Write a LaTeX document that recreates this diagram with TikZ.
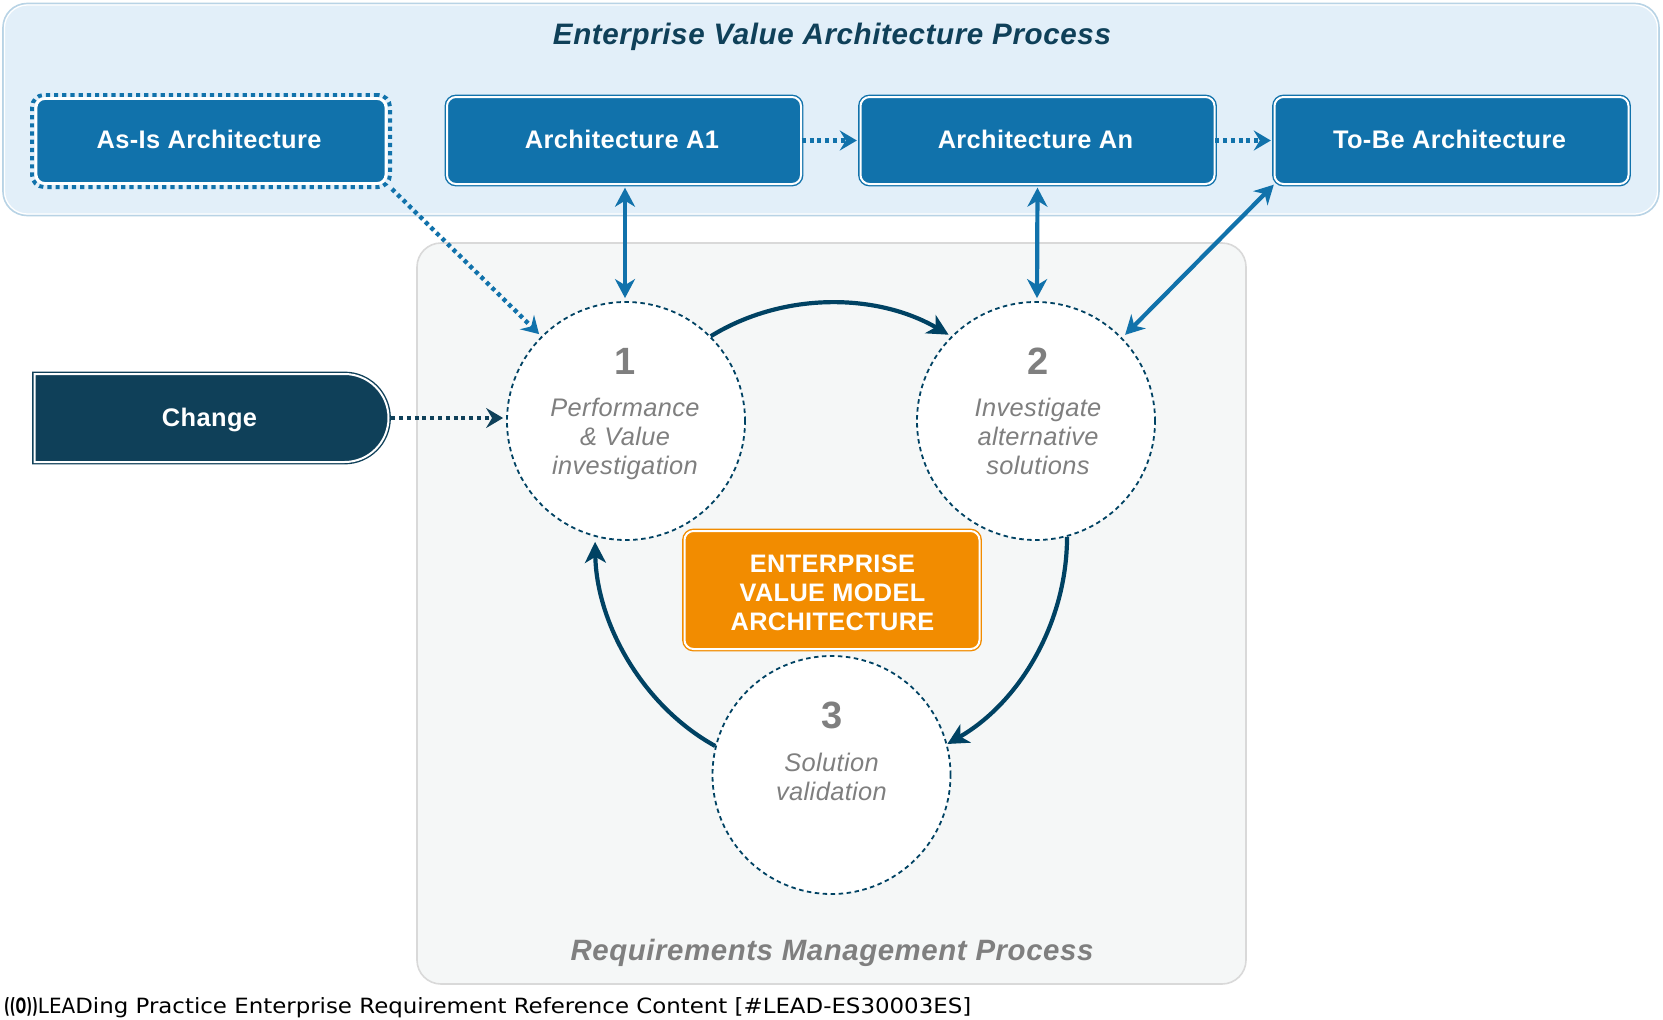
\documentclass[tikz,border=0pt]{standalone}
\usepackage{fontspec}
\setmainfont{Liberation Sans}
\newfontfamily\footfont{DejaVu Sans}
\usetikzlibrary{arrows.meta,calc,shapes.misc}
\definecolor{bluebox}{HTML}{1172AB}
\definecolor{navy}{HTML}{0F4059}
\definecolor{arcnavy}{HTML}{004263}
\definecolor{orangebox}{HTML}{F28C00}
\definecolor{toppanel}{HTML}{E2EFF9}
\definecolor{topedge}{HTML}{B8D3E5}
\definecolor{reqpanel}{HTML}{F5F7F7}
\definecolor{reqedge}{HTML}{D9D9D9}
\definecolor{greytext}{HTML}{7F7F7F}
\newcommand{\sz}[2]{\fontsize{#1}{#2}\selectfont}
\newcommand{\boxlabel}[1]{\hspace*{-4pt}\raisebox{2pt}{#1}}
\tikzset{
  x=1pt,y=-1pt,
  panel/.style={rounded corners=24pt,line width=1.6pt,anchor=north west,inner sep=0pt,outer sep=0pt},
  archbox/.style={rectangle,rounded corners=9pt,draw=bluebox,line width=1.4pt,double=white,double distance=2pt,fill=bluebox,
    minimum width=354pt,minimum height=87pt,inner sep=0pt,text=white,font=\sz{25.4}{29}\bfseries\addfontfeature{LetterSpace=1.5}},
  stage/.style={circle,draw=arcnavy,fill=white,line width=1.8pt,dash pattern=on 4.5pt off 3.5pt,minimum size=238pt,inner sep=0pt},
  numtext/.style={text=greytext,font=\sz{38}{38}\bfseries,inner sep=0pt},
  stagetext/.style={text=greytext,font=\sz{25.4}{29}\itshape\addfontfeature{LetterSpace=1.5},align=center,inner sep=0pt},
  bluelink/.style={draw=bluebox,line width=4.2pt,{Stealth[length=19pt,width=20pt,inset=6pt]}-{Stealth[length=19pt,width=20pt,inset=6pt]}},
  dotlink/.style={draw=bluebox,line width=4.4pt,dash pattern=on 4pt off 3.8pt,-{Stealth[length=17pt,width=20pt,inset=6pt]}},
  navydot/.style={draw=navy,line width=4.4pt,dash pattern=on 4pt off 3.8pt,-{Stealth[length=17pt,width=20pt,inset=6pt]}},
  cyclelink/.style={draw=arcnavy,line width=4.2pt,-{Stealth[length=21pt,width=21pt,inset=6pt]}},
}
\begin{document}
\begin{tikzpicture}
\useasboundingbox (0,0) rectangle (1663,1020);
\fill[white] (0,0) rectangle (1663,1020);
% panels
\node[panel,draw=topedge,fill=toppanel,minimum width=1656pt,minimum height=212pt] (toppanelbox) at (3,3.5) {};
\draw[white,line width=1.2pt,rounded corners=23pt] (4.5,5) rectangle (1657.5,214);
\node[panel,draw=reqedge,fill=reqpanel,minimum width=829pt,minimum height=741pt] (reqpanelbox) at (417,243) {};
\node[text=navy,font=\sz{29.6}{34}\bfseries\itshape\addfontfeature{LetterSpace=2},inner sep=0pt] (toptitle) at (832,37) {Enterprise Value Architecture Process};
\node[text=greytext,font=\sz{29.4}{34}\bfseries\itshape\addfontfeature{LetterSpace=2},inner sep=0pt] (reqtitle) at (832,953) {Requirements Management Process};
% top boxes
\node[rectangle,rounded corners=12pt,draw=bluebox,line width=4pt,dash pattern=on 4.2pt off 4pt,minimum width=358pt,minimum height=92pt,inner sep=0pt] (asisring) at (211,141) {};
\node[archbox,draw=white,double=white,double distance=0pt,line width=1.4pt,minimum width=350pt,minimum height=85pt] (asis) at (211,141) {\hspace*{-4pt}\raisebox{4pt}{As-Is Architecture}};
\node[archbox] (a1) at (624,140.5) {\boxlabel{Architecture A1}};
\node[archbox] (an) at (1037.5,140.5) {\boxlabel{Architecture An}};
\node[archbox] (tobe) at (1451.5,140.5) {\boxlabel{To-Be Architecture}};
% change
\node[rectangle,rounded rectangle,rounded rectangle left arc=none,draw=navy,line width=1.4pt,double=white,double distance=2pt,fill=navy,minimum width=354pt,minimum height=88pt,inner sep=0pt] (change) at (211.5,418) {};
\node[text=white,inner sep=0pt,font=\sz{25.4}{29}\bfseries\addfontfeature{LetterSpace=1.5}] (changetext) at (209.5,420) {Change};
% circles
\node[stage] (c1) at (626,421) {};
\node[stage] (c2) at (1036,421) {};
\node[stage] (c3) at (831.5,775) {};
\node[numtext] (n1) at (625,361) {1};
\node[stagetext] (t1) at (625,439) {Performance\\\& Value\\investigation};
\node[numtext] (n2) at (1038,361) {2};
\node[stagetext] (t2) at (1038,436.5) {Investigate\\alternative\\solutions};
\node[numtext] (n3) at (832,715) {3};
\node[stagetext] (t3) at (831.5,777) {Solution\\validation};
% centre
\node[rectangle,rounded corners=9pt,draw=orangebox,line width=1.4pt,double=white,double distance=2pt,fill=orangebox,minimum width=295pt,minimum height=118pt,inner sep=0pt] (centre) at (832,590) {};
\node[text=white,align=center,inner sep=0pt,font=\sz{25.3}{29}\bfseries\addfontfeature{LetterSpace=1.5}] (centretext) at (832.5,592.5) {ENTERPRISE\\VALUE MODEL\\ARCHITECTURE};
% connectors
\draw[bluelink,shorten <=3pt,shorten >=3pt] ([xshift=1pt]a1.south) -- ([xshift=-1pt]c1.north);
\draw[bluelink,shorten <=3pt,shorten >=3pt] (an.south) -- ([xshift=1pt]c2.north);
\draw[bluelink,shorten >=4pt] (tobe.south west) -- (c2.44);
\draw[dotlink,shorten >=3pt] (asisring.south east) -- (c1.135);
\draw[dotlink,shorten >=3pt] (a1.east) -- (an.west);
\draw[dotlink,shorten >=3pt] (an.east) -- (tobe.west);
\draw[navydot,shorten <=2pt,shorten >=3pt] (change.east) -- (change.east -| c1.west);
\draw[cyclelink,shorten >=3pt] (c1.45) .. controls +(73,-45) and +(-74,-43) .. (c2.135);
\draw[cyclelink] (c2.-75) .. controls +(0,85) and +(73,-42) .. (c3.15);
\draw[cyclelink,shorten >=5pt] (c3.166) .. controls +(-74,-41) and +(1.5,85) .. (c1.-105);
% footer
\node[anchor=west,inner sep=0pt,font=\footfont\sz{21}{24}] (footer) at (4,1008) {\scalebox{.6}[1]{\bfseries ((O))}\scalebox{.95}[1]{LEA}\scalebox{1.09}[1]{Ding Practice Enterprise Requirement Reference Content [\#LEAD-ES30003ES]}};
\end{tikzpicture}
\end{document}
